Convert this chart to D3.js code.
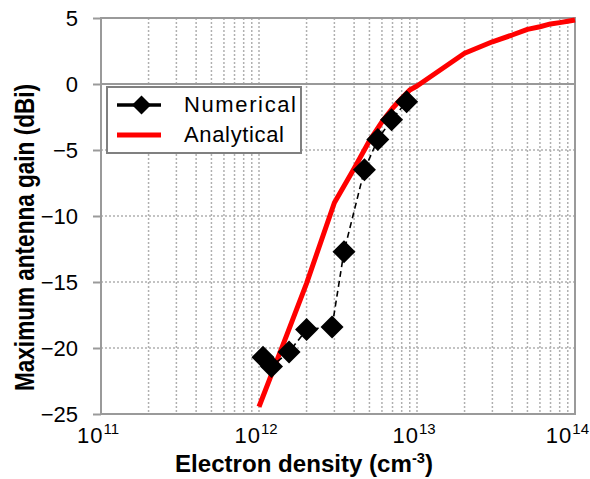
<!DOCTYPE html>
<html>
<head>
<meta charset="utf-8">
<script src="https://cdn.jsdelivr.net/npm/d3@7"></script>
<style>
  body { margin: 0; background: #fff; }
  text { font-family: "Liberation Sans", Arial, sans-serif; }
</style>
</head>
<body>
<div id="chart"></div>
<script>
// values
const numDensity = [1.06e12, 1.2e12, 1.55e12, 2.0e12, 2.9e12, 3.45e12, 4.65e12, 5.65e12, 6.9e12, 8.6e12];
const numGain    = [-20.7, -21.4, -20.3, -18.6, -18.4, -12.7, -6.5, -4.2, -2.7, -1.35];

const anaDensity = [1e12, 1.5e12, 2e12, 3e12, 4e12, 5e12, 6e12, 7e12, 8e12, 9e12,
                    1e13, 2e13, 3e13, 4e13, 5e13, 6e13, 7e13, 8e13, 9e13, 1e14];
const anaGain    = [-24.45, -19.0, -15.1, -9.0, -6.4, -4.3, -2.86, -1.84, -1.08, -0.45,
                    -0.15, 2.33, 3.2, 3.71, 4.14, 4.34, 4.55, 4.65, 4.75, 4.85];

const yTicks = [-25, -20, -15, -10, -5, 0, 5];
const xTickExps = [11, 12, 13, 14];
const seriesNames = ["Numerical", "Analytical"];

const W = 590, H = 479;
const plot = {left: 101, right: 575, top: 18, bottom: 414};

const svg = d3.select("#chart").append("svg")
    .attr("width", W)
    .attr("height", H);

const x = d3.scaleLog().domain([1e11, 1e14]).range([plot.left, plot.right]);
const y = d3.scaleLinear().domain([-25, 5]).range([plot.bottom, plot.top]);

// minor + major vertical grid (dotted)
const xGrid = [];
xTickExps.slice(0, -1).forEach(e => {
    for (let m = 1; m <= 9; m++) xGrid.push(m * Math.pow(10, e));
});
svg.append("g")
    .selectAll("line")
    .data(xGrid.filter(v => v > 1e11))
    .join("line")
    .attr("x1", d => x(d)).attr("x2", d => x(d))
    .attr("y1", plot.top).attr("y2", plot.bottom)
    .attr("stroke", "#b0b0b0")
    .attr("stroke-width", 1.5)
    .attr("stroke-dasharray", "2,2");

// horizontal grid
svg.append("g")
    .selectAll("line")
    .data(yTicks.filter(v => v > -25 && v < 5))
    .join("line")
    .attr("x1", plot.left).attr("x2", plot.right)
    .attr("y1", d => y(d)).attr("y2", d => y(d))
    .attr("stroke", d => d === 0 ? "#999" : "#b0b0b0")
    .attr("stroke-width", d => d === 0 ? 2 : 1.5)
    .attr("stroke-dasharray", d => d === 0 ? null : "2,2");

// frame
svg.append("rect")
    .attr("x", plot.left).attr("y", plot.top)
    .attr("width", plot.right - plot.left)
    .attr("height", plot.bottom - plot.top)
    .attr("fill", "none")
    .attr("stroke", "#9a9a9a")
    .attr("stroke-width", 2);

// Y axis ticks and labels
const yAxis = svg.append("g")
    .attr("transform", `translate(${plot.left},0)`)
    .call(d3.axisLeft(y).tickValues(yTicks).tickSize(8).tickPadding(15).tickFormat(d3.format("d")));
yAxis.select(".domain").remove();
yAxis.selectAll(".tick line").attr("stroke", "#9a9a9a").attr("stroke-width", 2);
yAxis.selectAll(".tick text")
    .style("font-family", "'Liberation Sans', Arial, sans-serif")
    .style("font-size", "22px")
    .attr("fill", "#000");

// X tick labels 10^n (last one kept inside the picture)
const xLab = svg.append("g")
    .selectAll("text")
    .data(xTickExps)
    .join("text")
    .attr("x", (d, i) => i === xTickExps.length - 1 ? W - 1 : x(Math.pow(10, d)) - 3)
    .attr("y", 443)
    .attr("text-anchor", (d, i) => i === xTickExps.length - 1 ? "end" : "middle")
    .style("font-size", "22px");
xLab.append("tspan").attr("letter-spacing", 1).text("10");
xLab.append("tspan")
    .attr("dy", -9)
    .style("font-size", "15px")
    .text(d => d);

// Analytical line
svg.append("path")
    .datum(anaDensity.map((d, i) => [d, anaGain[i]]))
    .attr("fill", "none")
    .attr("stroke", "#ff0000")
    .attr("stroke-width", 5)
    .attr("stroke-linejoin", "round")
    .attr("d", d3.line().x(d => x(d[0])).y(d => y(d[1])));

// Numerical dashed line + diamonds
const numData = numDensity.map((d, i) => [d, numGain[i]]);
svg.append("path")
    .datum(numData)
    .attr("fill", "none")
    .attr("stroke", "#000")
    .attr("stroke-width", 1.6)
    .attr("stroke-dasharray", "6,4")
    .attr("d", d3.line().x(d => x(d[0])).y(d => y(d[1])));

const diamond = r => `M0,${-r}L${r},0L0,${r}L${-r},0Z`;
svg.append("g")
    .selectAll("path")
    .data(numData)
    .join("path")
    .attr("transform", d => `translate(${x(d[0])},${y(d[1])})`)
    .attr("d", diamond(11.5))
    .attr("fill", "#000");

// legend
const legend = svg.append("g");
legend.append("rect")
    .attr("x", 107).attr("y", 87)
    .attr("width", 194).attr("height", 66)
    .attr("fill", "#fff")
    .attr("stroke", "#808080")
    .attr("stroke-width", 2);
legend.append("line")
    .attr("x1", 117).attr("x2", 161).attr("y1", 105).attr("y2", 105)
    .attr("stroke", "#000").attr("stroke-width", 3.5);
legend.append("path")
    .attr("transform", "translate(141.5,105)")
    .attr("d", diamond(9.5))
    .attr("fill", "#000");
legend.append("line")
    .attr("x1", 117).attr("x2", 161).attr("y1", 135).attr("y2", 135)
    .attr("stroke", "#ff0000").attr("stroke-width", 5);
legend.selectAll("text.lg")
    .data(seriesNames)
    .join("text")
    .attr("class", "lg")
    .attr("x", 184)
    .attr("y", (d, i) => 112 + i * 30)
    .attr("textLength", (d, i) => i === 0 ? 112 : 100)
    .attr("lengthAdjust", "spacing")
    .style("font-size", "22px")
    .text(d => d);

// axis titles
svg.append("text")
    .attr("transform", "translate(33.5,237.5) rotate(-90)")
    .attr("text-anchor", "middle")
    .attr("textLength", 307)
    .attr("lengthAdjust", "spacingAndGlyphs")
    .style("font-size", "28px")
    .style("font-weight", "bold")
    .text("Maximum antenna gain (dBi)");

const xTitle = svg.append("text")
    .attr("x", 175)
    .attr("y", 472)
    .attr("textLength", 258)
    .attr("lengthAdjust", "spacingAndGlyphs")
    .style("font-size", "23px")
    .style("font-weight", "bold");
xTitle.append("tspan").text("Electron density (cm");
xTitle.append("tspan").attr("dy", -9).style("font-size", "14px").text("-3");
xTitle.append("tspan").attr("dy", 9).text(")");
</script>
</body>
</html>
